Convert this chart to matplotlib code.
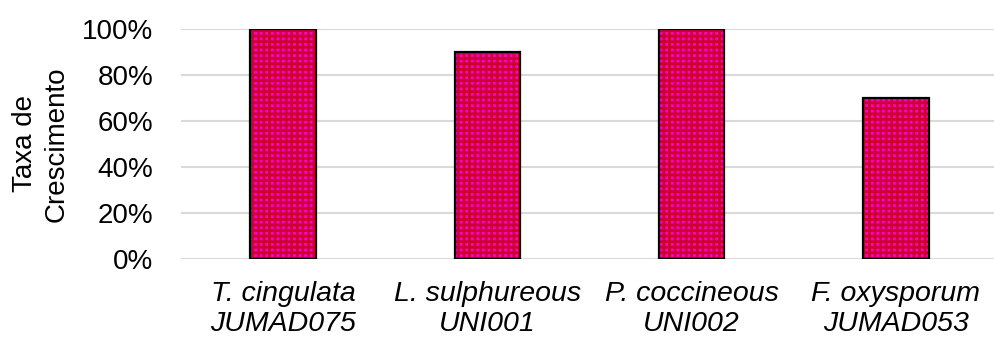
import matplotlib.pyplot as plt
from matplotlib.ticker import PercentFormatter

plt.rcParams['font.family'] = ['Liberation Sans', 'DejaVu Sans']
plt.rcParams['hatch.linewidth'] = 2.0

categorias = ['T. cingulata\nJUMAD075', 'L. sulphureous\nUNI001',
              'P. coccineous\nUNI002', 'F. oxysporum\nJUMAD053']
taxa = [1.00, 0.90, 1.00, 0.70]
y_ticks = [0, 0.2, 0.4, 0.6, 0.8, 1.0]

fig = plt.figure(figsize=(9.94, 3.38), dpi=100)
ax = fig.add_axes([181 / 994, 79 / 338, 1 - 181 / 994, 230 / 338])

x = range(len(categorias))
largura = 0.32
# preenchimento com padrao (magenta + vermelho)
ax.bar(x, taxa, width=largura, color='#FF00CC', edgecolor='#CC0033',
       hatch='+++', linewidth=0, zorder=2)
# contorno preto
ax.bar(x, taxa, width=largura, fill=False, edgecolor='black',
       linewidth=1.6, zorder=3)

ax.set_ylim(0, 1.0)
ax.set_xlim(-0.5, 3.48)
ax.set_yticks(y_ticks)
ax.yaxis.set_major_formatter(PercentFormatter(1.0, decimals=0))
ax.set_xticks(list(x))
ax.set_xticklabels(categorias, fontstyle='italic', fontsize=20.5,
                   linespacing=1.2)
ax.tick_params(axis='y', labelsize=20, length=0, pad=20)
ax.tick_params(axis='x', length=0, pad=16)
ax.grid(axis='y', color='#d9d9d9', linewidth=1.5, zorder=0)
ax.set_axisbelow(True)
for s in ax.spines.values():
    s.set_visible(False)

fig.text(41 / 994, 1 - 144 / 338, 'Taxa de\nCrescimento', rotation=90,
         ha='center', va='center', fontsize=20, multialignment='center',
         linespacing=1.25)

fig.savefig('out.png', dpi=100)
plt.close('all')
